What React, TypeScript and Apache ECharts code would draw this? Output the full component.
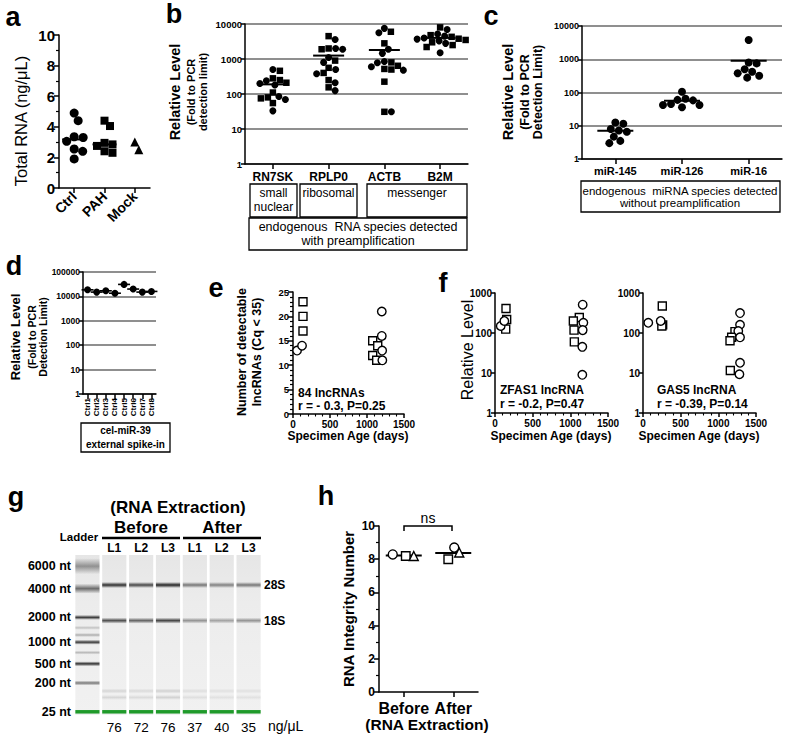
import React, { useEffect, useRef } from 'react';
import * as echarts from 'echarts';

const FONT = "'Liberation Sans', Arial, Helvetica, sans-serif";

// ---------------- Panel a : Total RNA ----------------
const aCategories = ['Ctrl', 'PAH', 'Mock'];
const aCtrl = [4.9, 4.4, 3.35, 3.3, 3.05, 2.55, 2.4, 1.9];
const aPAH = [4.4, 4.05, 2.95, 2.85, 2.75, 2.4, 2.3];
const aMock = [3.0, 2.5];

// ---------------- Panel b : endogenous RNA with preamplification ----------------
const bCategories = ['RN7SK', 'RPLP0', 'ACTB', 'B2M'];
const bSquares = [
  [460, 280, 250, 210, 110, 80, 75, 55],
  [4500, 2000, 1900, 900, 560, 400, 250, 155],
  [6000, 2800, 800, 640, 500, 520, 225, 31],
  [8000, 4800, 4300, 3800, 3500, 3000, 2500, 2200],
];
const bCircles = [
  [500, 240, 200, 180, 85, 70, 33],
  [3600, 2000, 1900, 1100, 800, 500, 380, 210, 125],
  [7500, 5600, 1900, 1450, 850, 780, 600, 480, 31],
  [7000, 5200, 4500, 4000, 3700, 3300, 2800, 1500],
];

// ---------------- Panel c : miRNA without preamplification ----------------
const cCategories = ['miR-145', 'miR-126', 'miR-16'];
const cValues = [
  [11.5, 12.5, 7.2, 6.6, 8, 4.7, 3, 3.5],
  [60, 65, 58, 105, 42, 36, 42, 45],
  [3800, 750, 800, 500, 380, 420, 280, 320],
];

// ---------------- Panel d : cel-miR-39 spike-in ----------------
const dCategories = ['Ctrl1', 'Ctrl2', 'Ctrl3', 'Ctrl4', 'Ctrl5', 'Ctrl6', 'Ctrl7', 'Ctrl8'];
const dValues = [18600, 15000, 17000, 13500, 31000, 20000, 15000, 16000];

// ---------------- Panel e : detectable lncRNAs vs specimen age ----------------
const eSquares = [[135, 23], [135, 20], [135, 17], [1077, 15], [1145, 14], [1077, 12], [1131, 11]];
const eCircles = [[55, 13], [122, 14], [1200, 21], [1200, 16], [1205, 13], [1207, 11]];

// ---------------- Panel f : ZFAS1 / GAS5 ----------------
const fZfasSquares = [[146, 410], [155, 218], [142, 125], [1119, 245], [1040, 200], [1049, 118], [1053, 60]];
const fZfasCircles = [[76, 150], [124, 200], [1164, 510], [1173, 180], [1164, 118], [1159, 45], [1159, 9]];
const fGasSquares = [[256, 475], [261, 160], [250, 150], [1221, 108], [1177, 78], [1155, 64], [1159, 11.5]];
const fGasCircles = [[70, 180], [235, 200], [1288, 315], [1288, 160], [1265, 112], [1288, 78], [1288, 18], [1280, 9.3]];

// ---------------- Panel g : gel ----------------
const gelLaneConc = ['', '76', '72', '76', '37', '40', '35'];
const gelLaneNames = ['', 'L1', 'L2', 'L3', 'L1', 'L2', 'L3'];
const ladderNt = [6000, 4000, 2000, 1000, 500, 200, 25];
const ladderMig = [7, 21, 39, 54.5, 68, 80, 98];
const ladderIntensity = [0.42, 0.6, 0.85, 0.85, 0.9, 0.55, 1];
const ladderFaintMig = [45.5, 50, 61];
const ladderFaintInt = [0.2, 0.3, 0.25];
const rRNANames = ['28S', '18S'];
const rRNAMig = [18.75, 41];
const int28S = [0.9, 0.78, 0.95, 0.55, 0.5, 0.55];
const int18S = [0.75, 0.65, 0.8, 0.42, 0.35, 0.42];
const lowMwMig = [85, 89];
const lowMwInt = [0.12, 0.1, 0.14, 0.08, 0.07, 0.07];

// ---------------- Panel h : RIN ----------------
const hCategories = ['Before', 'After'];
const hCircle = [8.29, 8.7];
const hSquare = [8.19, 8.0];
const hTriangle = [8.19, 8.4];
const hOffsetCircle = [-11, 1];
const hOffsetSquare = [2, -5];
const hOffsetTriangle = [10, 6];

// ---------------- helpers ----------------
const mean = (a: number[]) => a.reduce((s, v) => s + v, 0) / a.length;
const median = (a: number[]) => {
  const s = [...a].sort((p, q) => p - q);
  const m = Math.floor(s.length / 2);
  return s.length % 2 ? s[m] : (s[m - 1] + s[m]) / 2;
};

function swarmOffsets(vals: number[], pxOf: (v: number) => number, size: number): number[] {
  const order = vals.map((_, i) => i).sort((p, q) => vals[q] - vals[p]);
  const placed: { x: number; y: number }[] = [];
  const out = new Array(vals.length).fill(0);
  for (const i of order) {
    const y = pxOf(vals[i]);
    let chosen = 0;
    for (let k = 0; k < 400; k++) {
      const c = k === 0 ? 0 : (k % 2 ? 1 : -1) * Math.ceil(k / 2) * 0.5;
      if (placed.every((p) => (p.x - c) ** 2 + (p.y - y) ** 2 >= size * size * 0.92)) {
        chosen = c;
        break;
      }
    }
    placed.push({ x: chosen, y });
    out[i] = chosen;
  }
  return out;
}

const lbl = (fs: number, bold = true) => ({
  fontFamily: FONT,
  fontSize: fs,
  fontWeight: bold ? 'bold' : 'normal',
  color: '#000',
});
const axLine = { show: true, onZero: false, lineStyle: { color: '#000', width: 1.5 } };
const axTick = (len = 4) => ({ show: true, length: len, lineStyle: { color: '#000', width: 1.5 } });
const plain = (v: number) => String(Math.round(v * 1000) / 1000);

function valueY(gridIndex: number, min: number, max: number, interval: number, fs: number, minorSplit = 0) {
  return {
    type: 'value', gridIndex, min, max, interval,
    axisLine: axLine, axisTick: axTick(5),
    minorTick: minorSplit
      ? { show: true, splitNumber: minorSplit, length: 3, lineStyle: { color: '#000', width: 1.2 } }
      : { show: false },
    splitLine: { show: false },
    axisLabel: { ...lbl(fs), margin: 4, formatter: plain },
  };
}
function logY(gridIndex: number, max: number, fs: number, grid: boolean) {
  return {
    type: 'log', logBase: 10, gridIndex, min: 1, max,
    axisLine: axLine, axisTick: axTick(4),
    splitLine: { show: grid, lineStyle: { color: '#8f8f8f', width: 1.8 } },
    axisLabel: { ...lbl(fs), margin: 3, formatter: (v: number) => String(Math.round(v)) },
  };
}
function catX(gridIndex: number, data: string[], fs: number, extra: any = {}) {
  return {
    type: 'category', gridIndex, data,
    axisLine: axLine, axisTick: { ...axTick(5), alignWithLabel: true },
    axisLabel: { ...lbl(fs), interval: 0, margin: 6, ...extra },
    splitLine: { show: false },
  };
}
function ageX(gridIndex: number) {
  return {
    type: 'value', gridIndex, min: 0, max: 1500, interval: 500,
    axisLine: axLine, axisTick: axTick(4),
    minorTick: { show: true, splitNumber: 5, length: 2.5, lineStyle: { color: '#000', width: 1.1 } },
    splitLine: { show: false },
    axisLabel: { ...lbl(10), margin: 5, formatter: plain },
  };
}
function scatter(xAxisIndex: number, yAxisIndex: number, data: any[], symbol: string, size: any, open = false, z = 3) {
  return {
    type: 'scatter', xAxisIndex, yAxisIndex, data, symbol, symbolSize: size, z,
    itemStyle: open
      ? { color: '#fff', borderColor: '#000', borderWidth: 1.4, opacity: 1 }
      : { color: '#000', opacity: 1 },
    emphasis: { disabled: true },
    silent: true,
    animation: false,
  };
}
const lineMarker = (xi: number, yi: number, data: any[], w: number) =>
  scatter(xi, yi, data, 'rect', [w, 2], false, 4);

function T(x: number, y: number, text: string, fs: number, bold = true, rot = false, align = 'center') {
  return {
    type: 'text', x, y, rotation: rot ? Math.PI / 2 : 0, silent: true,
    style: {
      text, x: 0, y: 0, fontFamily: FONT, fontSize: fs,
      fontWeight: bold ? 'bold' : 'normal', fill: '#000', align, verticalAlign: 'middle',
    },
  };
}
const R = (x: number, y: number, w: number, h: number) => ({
  type: 'rect', silent: true, shape: { x, y, width: w, height: h },
  style: { fill: 'none', stroke: '#000', lineWidth: 1.3 },
});
const L = (x1: number, y1: number, x2: number, y2: number, w = 2.5) => ({
  type: 'line', silent: true, shape: { x1, y1, x2, y2 }, style: { stroke: '#000', lineWidth: w },
});

function buildOption() {
  const grid = [
    { left: 59, top: 35, width: 91, height: 153 }, // a
    { left: 245, top: 24, width: 223, height: 140 }, // b
    { left: 582, top: 26, width: 200, height: 133 }, // c
    { left: 83, top: 272, width: 73, height: 122 }, // d
    { left: 293, top: 292, width: 111, height: 122 }, // e
    { left: 495, top: 293, width: 113, height: 120 }, // f1
    { left: 643, top: 293, width: 113, height: 120 }, // f2
    { left: 74, top: 555, width: 188, height: 160 }, // g
    { left: 379, top: 526, width: 99, height: 166 }, // h
  ];

  const xAxis: any[] = [
    catX(0, aCategories, 14, { rotate: 45, margin: 6 }), // 0
    catX(1, bCategories, 12, { margin: 7 }), // 1
    catX(2, cCategories, 11, { margin: 6 }), // 2
    catX(3, dCategories, 8, { rotate: 90, margin: 4 }), // 3
    ageX(4), // 4
    ageX(5), // 5
    ageX(6), // 6
    {
      type: 'category', gridIndex: 7, data: gelLaneConc,
      axisLine: { show: false }, axisTick: { show: false },
      axisLabel: { ...lbl(13.5, false), interval: 0, margin: 5 },
    }, // 7
    {
      type: 'category', gridIndex: 7, data: gelLaneNames, position: 'top',
      axisLine: { show: false }, axisTick: { show: false },
      axisLabel: { ...lbl(12), interval: 0, margin: 1 },
    }, // 8
    catX(8, hCategories, 16, { margin: 8 }), // 9
  ];

  const yAxis: any[] = [
    valueY(0, 0, 10, 2, 15, 2), // 0
    logY(1, 10000, 9.5, true), // 1
    logY(2, 10000, 9, true), // 2
    logY(3, 100000, 8.5, true), // 3
    valueY(4, 0, 25, 5, 9.5, 5), // 4
    logY(5, 1000, 10, false), // 5
    logY(6, 1000, 10, false), // 6
    {
      type: 'value', gridIndex: 7, min: 0, max: 100, inverse: true,
      axisLine: { show: false }, axisTick: { show: false }, splitLine: { show: false },
      axisLabel: {
        ...lbl(12.5), margin: 3, customValues: ladderMig,
        formatter: (v: number) => {
          const i = ladderMig.indexOf(v);
          return i >= 0 ? `${ladderNt[i]} nt` : '';
        },
      },
    }, // 7
    {
      type: 'value', gridIndex: 7, min: 0, max: 100, inverse: true, position: 'right',
      axisLine: { show: false }, axisTick: { show: false }, splitLine: { show: false },
      axisLabel: {
        ...lbl(12), margin: 2, customValues: rRNAMig,
        formatter: (v: number) => {
          const i = rRNAMig.indexOf(v);
          return i >= 0 ? rRNANames[i] : '';
        },
      },
    }, // 8
    valueY(8, 0, 10, 2, 12, 2), // 9
  ];

  const series: any[] = [];

  // ---- a
  const aGroups = [
    { vals: aCtrl, sym: 'circle', size: 9 },
    { vals: aPAH, sym: 'rect', size: 8 },
    { vals: aMock, sym: 'triangle', size: 9 },
  ];
  aGroups.forEach((g, i) => {
    const offs = swarmOffsets(g.vals, (v) => v * 15.3, g.size);
    series.push(
      scatter(0, 0, g.vals.map((v, j) => ({ value: [i, v], symbolOffset: [offs[j], 0] })), g.sym, g.size)
    );
  });
  series.push(lineMarker(0, 0, [[0, median(aCtrl)], [1, median(aPAH)]], 24));

  // ---- b
  const bSq: any[] = [];
  const bCi: any[] = [];
  bCategories.forEach((_, i) => {
    const comb = [...bSquares[i], ...bCircles[i]];
    const offs = swarmOffsets(comb, (v) => Math.log10(v) * 35, 7.2);
    comb.forEach((v, j) => {
      const item = { value: [i, v], symbolOffset: [offs[j], 0] };
      if (j < bSquares[i].length) bSq.push(item);
      else bCi.push(item);
    });
  });
  series.push(scatter(1, 1, bSq, 'rect', 6.5));
  series.push(scatter(1, 1, bCi, 'circle', 7));
  series.push(
    lineMarker(1, 1, bCategories.map((_, i) => [i, mean([...bSquares[i], ...bCircles[i]])]), 31)
  );

  // ---- c
  const cData: any[] = [];
  cValues.forEach((vals, i) => {
    const offs = swarmOffsets(vals, (v) => Math.log10(v) * 33.25, 8);
    vals.forEach((v, j) => cData.push({ value: [i, v], symbolOffset: [offs[j], 0] }));
  });
  series.push(scatter(2, 2, cData, 'circle', 8));
  series.push(lineMarker(2, 2, cValues.map((vals, i) => [i, mean(vals)]), 36));

  // ---- d
  series.push(scatter(3, 3, dValues.map((v, i) => [i, v]), 'circle', 7));
  series.push(scatter(3, 3, dValues.map((v, i) => [i, v]), 'rect', [12, 1.6], false, 2));

  // ---- e
  series.push(scatter(4, 4, eSquares, 'rect', 8, true));
  series.push(scatter(4, 4, eCircles, 'circle', 8.5, true));

  // ---- f
  series.push(scatter(5, 5, fZfasSquares, 'rect', 8, true));
  series.push(scatter(5, 5, fZfasCircles, 'circle', 8.5, true));
  series.push(scatter(6, 6, fGasSquares, 'rect', 8, true));
  series.push(scatter(6, 6, fGasCircles, 'circle', 8.5, true));

  // ---- g gel
  const bands: any[] = [];
  ladderMig.forEach((m, k) => {
    const thick = k === 0 ? 16 : k === 1 ? 10 : k === ladderMig.length - 1 ? 3.5 : 5;
    bands.push([0, m, ladderIntensity[k], thick, k === ladderMig.length - 1 ? 1 : 0]);
  });
  ladderFaintMig.forEach((m, k) => bands.push([0, m, ladderFaintInt[k], 4, 0]));
  int28S.forEach((v, k) => {
    const lane = k + 1;
    bands.push([lane, rRNAMig[0], v, 6, 0]);
    bands.push([lane, rRNAMig[1], int18S[k], 6, 0]);
    lowMwMig.forEach((m) => bands.push([lane, m, lowMwInt[k], 5, 0]));
    bands.push([lane, ladderMig[ladderMig.length - 1], 1, 3.5, 1]);
  });
  series.push({
    type: 'custom', xAxisIndex: 7, yAxisIndex: 7, z: 1, silent: true,
    data: gelLaneConc.map((_, i) => [i]),
    renderItem: (_p: any, api: any) => {
      const i = api.value(0);
      const top = api.coord([i, 0]);
      const bot = api.coord([i, 100]);
      const w = api.size([1, 0])[0] * 0.9;
      return {
        type: 'rect',
        shape: { x: top[0] - w / 2, y: top[1], width: w, height: bot[1] - top[1] },
        style: {
          fill: new echarts.graphic.LinearGradient(0, 0, 0, 1, [
            { offset: 0, color: '#e6e6e6' },
            { offset: 0.3, color: '#ececec' },
            { offset: 1, color: '#f1f1f1' },
          ]),
        },
      };
    },
  });
  series.push({
    type: 'custom', xAxisIndex: 7, yAxisIndex: 7, z: 2, silent: true,
    data: bands,
    renderItem: (_p: any, api: any) => {
      const lane = api.value(0);
      const mig = api.value(1);
      const inten = api.value(2);
      const thick = api.value(3);
      const green = api.value(4);
      const p = api.coord([lane, mig]);
      const w = api.size([1, 0])[0] * 0.9;
      if (green) {
        return {
          type: 'rect',
          shape: { x: p[0] - w / 2, y: p[1] - thick / 2, width: w, height: thick },
          style: { fill: '#1f9a2a' },
        };
      }
      const base = '25,25,25';
      return {
        type: 'rect',
        shape: { x: p[0] - w / 2, y: p[1] - thick / 2, width: w, height: thick },
        style: {
          fill: new echarts.graphic.LinearGradient(0, 0, 0, 1, [
            { offset: 0, color: `rgba(${base},0)` },
            { offset: 0.5, color: `rgba(${base},${inten})` },
            { offset: 1, color: `rgba(${base},0)` },
          ]),
        },
      };
    },
  });

  // ---- h
  const hItems = (vals: number[], offs: number[]) =>
    vals.map((v, i) => ({ value: [i, v], symbolOffset: [offs[i], 0] }));
  series.push(lineMarker(9, 9, hCategories.map((_, i) => [i, mean([hCircle[i], hSquare[i], hTriangle[i]])]), 36));
  series.push(scatter(9, 9, hItems(hCircle, hOffsetCircle), 'circle', 9, true, 5));
  series.push(scatter(9, 9, hItems(hSquare, hOffsetSquare), 'rect', 8.5, true, 5));
  series.push(scatter(9, 9, hItems(hTriangle, hOffsetTriangle), 'triangle', 9, true, 5));

  const graphic: any[] = [
    // panel letters
    T(13, 17, 'a', 27), T(174, 14, 'b', 27), T(491, 16, 'c', 27), T(14, 266, 'd', 27),
    T(216, 288, 'e', 27), T(443, 283, 'f', 27), T(16, 497, 'g', 27), T(326, 496, 'h', 27),
    // a
    T(21, 121, 'Total RNA (ng/\u03bcL)', 16.5, false, true),
    // b
    T(175, 92, 'Relative Level', 14.5, true, true),
    T(191, 92, '(Fold to PCR', 11, true, true),
    T(203, 92, 'detection limit)', 11, true, true),
    R(250, 184, 47, 33), R(300, 184, 57, 33), R(367, 184, 100, 33), R(249, 218, 218, 32),
    T(273.5, 193, 'small', 12, false), T(273.5, 207, 'nuclear', 12, false),
    T(328.5, 193, 'ribosomal', 12, false), T(417, 193, 'messenger', 12, false),
    T(358, 227, 'endogenous  RNA species detected', 12.5, false),
    T(358, 241, 'with preamplification', 12.5, false),
    // c
    T(508, 92, 'Relative Level', 14.5, true, true),
    T(525, 92, '(Fold to PCR', 12.5, true, true),
    T(538, 92, 'Detection Limit)', 12.5, true, true),
    R(581, 181, 199, 31),
    T(680, 190.5, 'endogenous  miRNA species detected', 11.5, false),
    T(680, 203, 'without preamplification', 11.5, false),
    // d
    T(15, 337, 'Relative Level', 13, true, true),
    T(32, 337, '(Fold to PCR', 10.5, true, true),
    T(43, 337, 'Detection Limit)', 10.5, true, true),
    R(81, 423, 89, 29),
    T(125.5, 430, 'cel-miR-39', 10, true), T(125.5, 444, 'external spike-in', 10, true),
    // e
    T(242, 352, 'Number of detectable', 12.5, true, true),
    T(257, 352, 'lncRNAs (Cq < 35)', 12.5, true, true),
    T(298, 393, '84 lncRNAs', 12, true, false, 'left'),
    T(298, 405.5, 'r = - 0.3, P=0.25', 12, true, false, 'left'),
    T(348, 436, 'Specimen Age (days)', 12, true),
    // f
    T(467, 350, 'Relative Level', 16, false, true),
    T(500, 390, 'ZFAS1 lncRNA', 12, true, false, 'left'),
    T(500, 404, 'r = -0.2, P=0.47', 12, true, false, 'left'),
    T(657, 390, 'GAS5 lncRNA', 12, true, false, 'left'),
    T(657, 404, 'r = -0.39, P=0.14', 12, true, false, 'left'),
    T(551, 436, 'Specimen Age (days)', 12, true),
    T(699, 436, 'Specimen Age (days)', 12, true),
    // g
    T(178, 507, '(RNA Extraction)', 17, true),
    T(141, 527, 'Before', 17, true), T(222, 527, 'After', 17, true),
    L(102, 538, 180, 538), L(183, 538, 261, 538),
    T(79, 537, 'Ladder', 11.5, true),
    T(268, 726, 'ng/\u03bcL', 14, false, false, 'left'),
    // h
    T(348, 609, 'RNA Integrity Number', 15, true, true),
    T(427, 724, '(RNA Extraction)', 15.5, true),
    T(428, 518, 'ns', 14, false),
    {
      type: 'polyline', silent: true,
      shape: { points: [[404, 531], [404, 526], [452, 526], [452, 531]] },
      style: { stroke: '#000', fill: 'none', lineWidth: 1.5 },
    },
  ];

  return {
    animation: false,
    backgroundColor: '#fff',
    textStyle: { fontFamily: FONT },
    grid,
    xAxis,
    yAxis,
    series,
    graphic,
  };
}

export default function App() {
  const ref = useRef<HTMLDivElement>(null);
  useEffect(() => {
    if (!ref.current) return;
    const chart = echarts.init(ref.current, null, { renderer: 'svg' });
    chart.setOption(buildOption() as any);
    return () => chart.dispose();
  }, []);
  return (
    <div
      ref={ref}
      style={{ position: 'absolute', left: 0, top: 0, width: 787, height: 737, background: '#fff' }}
    />
  );
}
